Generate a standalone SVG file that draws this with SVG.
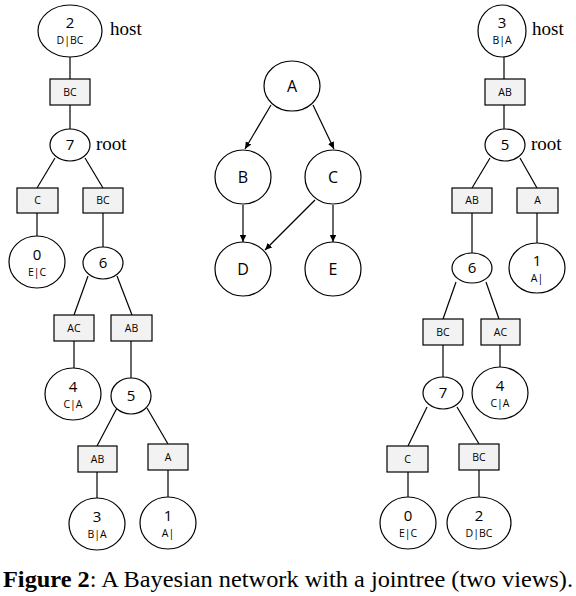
<svg xmlns="http://www.w3.org/2000/svg" width="576" height="596" viewBox="0 0 576 596">
<style>
.n{fill:#fff;stroke:#000;stroke-width:1.2}
.s{fill:#f2f2f2;stroke:#000;stroke-width:1.2}
.l{stroke:#000;stroke-width:1.2;fill:none}
.t{font-family:"Open Sans","Liberation Sans",sans-serif;font-size:15px;text-anchor:middle;fill:#000}
.u{font-family:"Open Sans","Liberation Sans",sans-serif;font-size:10.5px;text-anchor:middle;fill:#000}
.r{font-family:"Open Sans","Liberation Sans",sans-serif;font-size:10.5px;text-anchor:middle;fill:#000}
.b{font-family:"Open Sans","Liberation Sans",sans-serif;font-size:16px;text-anchor:middle;fill:#000}
.w{font-family:"Liberation Serif","Times New Roman",serif;font-size:19px;fill:#000}
</style>
<defs>
<marker id="ar" markerWidth="8" markerHeight="8" refX="7" refY="4" orient="auto" markerUnits="userSpaceOnUse">
<path d="M0,0.8 L7,4 L0,7.2 z" fill="#000"/>
</marker>
</defs>
<g id="connectors">
<line class="l" x1="70" y1="57" x2="70" y2="79"/>
<line class="l" x1="70" y1="105" x2="70" y2="129"/>
<line class="l" x1="55" y1="158" x2="37" y2="188"/>
<line class="l" x1="85" y1="158" x2="103" y2="188"/>
<line class="l" x1="37" y1="213" x2="37" y2="237"/>
<line class="l" x1="103" y1="213" x2="103" y2="247"/>
<line class="l" x1="88" y1="276" x2="74" y2="315"/>
<line class="l" x1="117" y1="276" x2="132" y2="315"/>
<line class="l" x1="74" y1="341" x2="74" y2="368"/>
<line class="l" x1="131" y1="341" x2="131" y2="378"/>
<line class="l" x1="117" y1="408" x2="97" y2="446"/>
<line class="l" x1="147" y1="408" x2="168" y2="444"/>
<line class="l" x1="97" y1="472" x2="97" y2="498"/>
<line class="l" x1="168" y1="470" x2="168" y2="497"/>
<line class="l" x1="271" y1="105" x2="245" y2="149" marker-end="url(#ar)"/>
<line class="l" x1="313" y1="105" x2="334" y2="149" marker-end="url(#ar)"/>
<line class="l" x1="243" y1="205" x2="243" y2="242" marker-end="url(#ar)"/>
<line class="l" x1="315" y1="200" x2="265" y2="250" marker-end="url(#ar)"/>
<line class="l" x1="333" y1="205" x2="333" y2="242" marker-end="url(#ar)"/>
<line class="l" x1="504" y1="57" x2="504" y2="79"/>
<line class="l" x1="504" y1="105" x2="504" y2="129"/>
<line class="l" x1="490" y1="158" x2="472" y2="188"/>
<line class="l" x1="520" y1="158" x2="537" y2="188"/>
<line class="l" x1="472" y1="213" x2="472" y2="253"/>
<line class="l" x1="537" y1="213" x2="537" y2="243"/>
<line class="l" x1="456" y1="282" x2="443" y2="319"/>
<line class="l" x1="486" y1="282" x2="499" y2="319"/>
<line class="l" x1="443" y1="345" x2="443" y2="377"/>
<line class="l" x1="500" y1="345" x2="500" y2="367"/>
<line class="l" x1="427" y1="407" x2="408" y2="446"/>
<line class="l" x1="457" y1="407" x2="479" y2="444"/>
<line class="l" x1="408" y1="472" x2="408" y2="497" stroke-width="2.2"/>
<line class="l" x1="479" y1="470" x2="479" y2="497"/>
</g>
<g id="L2"><ellipse class="n" cx="70" cy="31" rx="32" ry="26"/><text class="t" x="70" y="28">2</text><text class="u" x="70" y="44">D|BC</text></g>
<text class="w" x="110" y="35">host</text>
<g id="Ls_BC1"><rect class="s" x="50" y="79" width="40" height="26"/><text class="r" x="70" y="96">BC</text></g>
<g id="L7"><ellipse class="n" cx="70" cy="145" rx="20" ry="16"/><text class="t" x="70" y="150">7</text></g>
<text class="w" x="96" y="150">root</text>
<g id="Ls_C"><rect class="s" x="17" y="188" width="41" height="25"/><text class="r" x="37.5" y="204">C</text></g>
<g id="Ls_BC2"><rect class="s" x="83" y="188" width="40" height="25"/><text class="r" x="103" y="204">BC</text></g>
<g id="L0"><ellipse class="n" cx="37" cy="262" rx="28" ry="26"/><text class="t" x="37" y="260">0</text><text class="u" x="37" y="276">E|C</text></g>
<g id="L6"><ellipse class="n" cx="103" cy="263" rx="20" ry="16"/><text class="t" x="103" y="268">6</text></g>
<g id="Ls_AC"><rect class="s" x="54" y="315" width="40" height="26"/><text class="r" x="74" y="332">AC</text></g>
<g id="Ls_AB"><rect class="s" x="111" y="315" width="41" height="26"/><text class="r" x="131.5" y="332">AB</text></g>
<g id="L4"><ellipse class="n" cx="73" cy="394" rx="28" ry="26"/><text class="t" x="73" y="392">4</text><text class="u" x="73" y="408">C|A</text></g>
<g id="L5"><ellipse class="n" cx="131" cy="396" rx="20" ry="18"/><text class="t" x="131" y="401">5</text></g>
<g id="Ls_AB2"><rect class="s" x="78" y="446" width="39" height="26"/><text class="r" x="97.5" y="463">AB</text></g>
<g id="Ls_A"><rect class="s" x="148" y="444" width="40" height="26"/><text class="r" x="168" y="461">A</text></g>
<g id="L3"><ellipse class="n" cx="97" cy="524" rx="28" ry="26"/><text class="t" x="97" y="522">3</text><text class="u" x="97" y="538">B|A</text></g>
<g id="L1"><ellipse class="n" cx="168" cy="523" rx="28" ry="26"/><text class="t" x="168" y="521">1</text><text class="u" x="168" y="537">A|</text></g>
<g id="BN_A"><ellipse class="n" cx="292" cy="86" rx="28" ry="25"/><text class="b" x="292" y="92">A</text></g>
<g id="BN_B"><ellipse class="n" cx="243" cy="177" rx="28" ry="27"/><text class="b" x="243" y="183">B</text></g>
<g id="BN_C"><ellipse class="n" cx="333" cy="177" rx="28" ry="27"/><text class="b" x="333" y="183">C</text></g>
<g id="BN_D"><ellipse class="n" cx="243" cy="269" rx="28" ry="27"/><text class="b" x="243" y="275">D</text></g>
<g id="BN_E"><ellipse class="n" cx="333" cy="269" rx="28" ry="27"/><text class="b" x="333" y="275">E</text></g>
<g id="R3"><ellipse class="n" cx="502" cy="31" rx="24" ry="26"/><text class="t" x="502" y="28">3</text><text class="u" x="502" y="44">B|A</text></g>
<text class="w" x="532" y="35">host</text>
<g id="Rs_AB1"><rect class="s" x="485" y="79" width="40" height="26"/><text class="r" x="505" y="96">AB</text></g>
<g id="R5"><ellipse class="n" cx="505" cy="145" rx="20" ry="16"/><text class="t" x="505" y="150">5</text></g>
<text class="w" x="531" y="150">root</text>
<g id="Rs_AB2"><rect class="s" x="452" y="188" width="40" height="25"/><text class="r" x="472" y="204">AB</text></g>
<g id="Rs_A"><rect class="s" x="517" y="188" width="41" height="25"/><text class="r" x="537.5" y="204">A</text></g>
<g id="R6"><ellipse class="n" cx="472" cy="268" rx="20" ry="15"/><text class="t" x="472" y="273">6</text></g>
<g id="R1"><ellipse class="n" cx="537" cy="268" rx="28" ry="25"/><text class="t" x="537" y="266">1</text><text class="u" x="537" y="282">A|</text></g>
<g id="Rs_BC"><rect class="s" x="423" y="319" width="40" height="26"/><text class="r" x="443" y="336">BC</text></g>
<g id="Rs_AC"><rect class="s" x="481" y="319" width="39" height="26"/><text class="r" x="500.5" y="336">AC</text></g>
<g id="R7"><ellipse class="n" cx="443" cy="393" rx="20" ry="16"/><text class="t" x="443" y="398">7</text></g>
<g id="R4"><ellipse class="n" cx="500" cy="393" rx="28" ry="26"/><text class="t" x="500" y="391">4</text><text class="u" x="500" y="407">C|A</text></g>
<g id="Rs_C"><rect class="s" x="387" y="446" width="41" height="26" stroke-width="2.2"/><text class="r" x="407.5" y="463">C</text></g>
<g id="Rs_BC2"><rect class="s" x="459" y="444" width="40" height="26"/><text class="r" x="479" y="461">BC</text></g>
<g id="R0"><ellipse class="n" cx="408" cy="523" rx="28" ry="26"/><text class="t" x="408" y="521">0</text><text class="u" x="408" y="537">E|C</text></g>
<g id="R2"><ellipse class="n" cx="479" cy="523" rx="32" ry="26"/><text class="t" x="479" y="521">2</text><text class="u" x="479" y="537">D|BC</text></g>
<text class="w" x="3" y="587" style="font-size:24px" textLength="570" lengthAdjust="spacingAndGlyphs"><tspan font-weight="bold">Figure 2</tspan>: A Bayesian network with a jointree (two views).</text>
</svg>
